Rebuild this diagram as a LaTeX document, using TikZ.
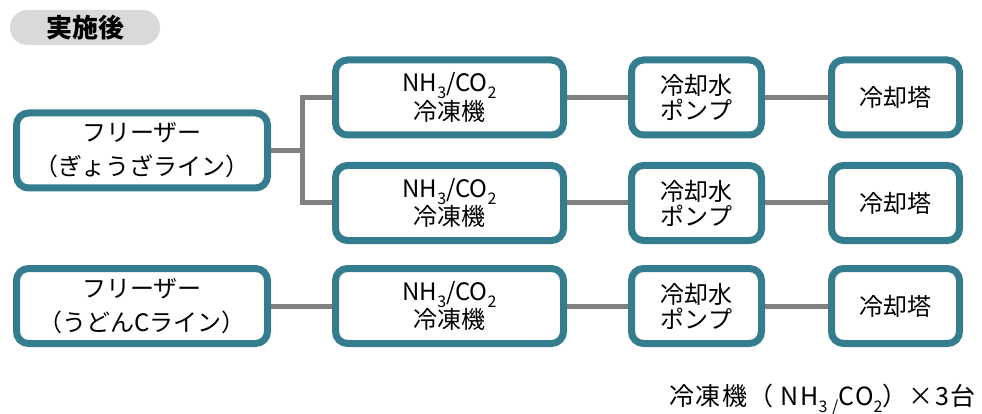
\documentclass[tikz,border=0pt]{standalone}
\usepackage{fontspec}
\setmainfont{Noto Sans CJK JP}
\newfontfamily\jp{Noto Sans CJK JP}
\usetikzlibrary{backgrounds}
\definecolor{teal1}{RGB}{52,125,143}
\definecolor{conn}{RGB}{128,128,128}
\definecolor{pill}{RGB}{217,217,217}
\newcommand\sbs[1]{\raisebox{-0.3em}{\fontsize{16}{16}\selectfont #1}}
\begin{document}
\begin{tikzpicture}[x=1pt,y=-1pt,
  box/.style={draw=teal1,line width=7pt,fill=white,rounded corners=12pt,inner sep=0pt,
    align=center,minimum height=75pt,font=\jp\fontsize{24}{34}\selectfont},
  fbox/.style={box,minimum width=251pt},
  cbox/.style={box,minimum width=228pt,font=\jp\fontsize{24}{26}\selectfont},
  pbox/.style={box,minimum width=130pt,font=\jp\fontsize{24}{25}\selectfont},
  tbox/.style={box,minimum width=128pt,font=\jp\fontsize{24}{26}\selectfont},
  link/.style={draw=conn,line width=5pt}]
\useasboundingbox (0,0) rectangle (982,414);
\node[fill=pill,rounded corners=17.5pt,minimum width=150pt,minimum height=35pt,inner sep=0pt,
  font=\jp\bfseries\fontsize{26}{26}\selectfont] (h) at (85,27.5) {実施後};

\node[fbox] (f1) at (142,150.5) {フリーザー\\（ぎょうざライン）};
\node[fbox] (f2) at (142,306) {フリーザー\\（うどんCライン）};

\node[cbox] (c1) at (449.5,97.5) {NH\sbs{3}/CO\sbs{2}\\冷凍機};
\node[cbox] (c2) at (449.5,203) {NH\sbs{3}/CO\sbs{2}\\冷凍機};
\node[cbox] (c3) at (449.5,306) {NH\sbs{3}/CO\sbs{2}\\冷凍機};

\node[pbox] (p1) at (696.5,97.5) {冷却水\\ポンプ};
\node[pbox] (p2) at (696.5,203) {冷却水\\ポンプ};
\node[pbox] (p3) at (696.5,306) {冷却水\\ポンプ};

\node[tbox] (t1) at (895.5,97.5) {冷却塔};
\node[tbox] (t2) at (895.5,203) {冷却塔};
\node[tbox] (t3) at (895.5,306) {冷却塔};

\coordinate (j) at (302,150.5);

\node[anchor=base east,inner sep=0pt,font=\jp\fontsize{25}{25}\selectfont\addfontfeature{LetterSpace=6}] (note) at (976,405)
  {冷凍機（ NH\sbs{3 /}CO\sbs{2}）×3台};

\begin{scope}[on background layer]
\draw[link] (f1.east) -- (j);
\draw[link] (c1.west) -- (c1.west -| j) -- (c2.west -| j) -- (c2.west);
\draw[link] (c1.east) -- (p1.west);
\draw[link] (c2.east) -- (p2.west);
\draw[link] (c3.east) -- (p3.west);
\draw[link] (p1.east) -- (t1.west);
\draw[link] (p2.east) -- (t2.west);
\draw[link] (p3.east) -- (t3.west);
\draw[link] (f2.east) -- (c3.west);
\end{scope}
\end{tikzpicture}
\end{document}
